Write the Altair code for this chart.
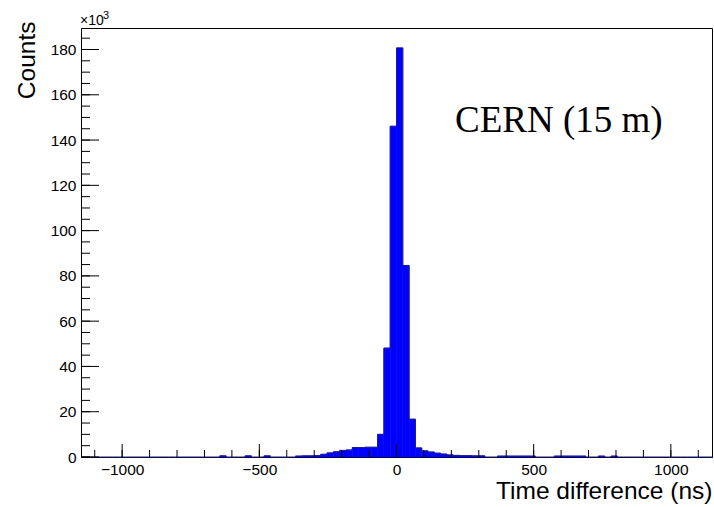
import altair as alt
import pandas as pd

# Histogram: 100 bins from -1150 to 1150 ns, counts in thousands
x_min, x_max, n_bins = -1150.0, 1150.0, 100
counts_k = (
    [0.0] * 22 + [0.5] + [0.0] * 3 + [0.5] + [0.0] * 2 + [0.5] + [0.0] * 4
    + [0.4, 0.5, 0.5, 0.6]
    + [1.2, 1.8, 2.3, 2.9, 3.1]
    + [4.2, 4.2, 4.3, 4.3]
    + [10.0, 48.1, 146.1, 180.7, 84.6, 16.7, 4.0]
    + [2.7, 2.2, 1.7, 1.3, 0.9, 0.7, 0.6, 0.6, 0.5, 0.5]
    + [0.0, 0.0]
    + [0.4] * 6
    + [0.0] * 3
    + [0.4] * 5
    + [0.0, 0.0, 0.4, 0.0, 0.4]
    + [0.0] * 15
)
x_major = [-1000, -500, 0, 500, 1000]
x_minor = list(range(-1100, 1101, 100))
y_major = [0, 20, 40, 60, 80, 100, 120, 140, 160, 180]
y_minor = list(range(0, 190, 5))
y_top = 189.5

bw = (x_max - x_min) / n_bins
left = [x_min + bw * i for i in range(n_bins)]
right = [l + bw for l in left]
hist = pd.DataFrame({"left": left, "right": right, "count": counts_k, "zero": [0.0] * n_bins})
outline = pd.DataFrame({"left": left + [x_max], "count": counts_k + [counts_k[-1]]})

W, H = 631, 429
FONT = "Liberation Sans"
XT = "Time difference (ns)"
YT = "Counts"

xs = alt.Scale(domain=[x_min, x_max], nice=False, zero=False)
ys = alt.Scale(domain=[0, y_top], nice=False, zero=True)

bars = alt.Chart(hist).transform_filter("datum.count > 0").mark_rect(
    color="#0000ff", stroke="#0000ff", strokeWidth=0.6).encode(
    x=alt.X("left:Q", scale=xs, title=XT,
            axis=alt.Axis(values=x_major, format="d", titleX=W, titleY=41)),
    x2="right:Q",
    y=alt.Y("count:Q", scale=ys, title=YT,
            axis=alt.Axis(values=y_major, format="d", titleAngle=270, titleX=-47, titleY=-7)),
    y2="zero:Q",
)

line = alt.Chart(outline).mark_line(interpolate="step-after", color="#1c1c8c",
                                     strokeWidth=1).encode(
    x=alt.X("left:Q", scale=xs, title=XT),
    y=alt.Y("count:Q", scale=ys, title=YT),
)

ytick_major = alt.Chart(pd.DataFrame({"v": y_major})).mark_rule(color="black", strokeWidth=1).encode(
    y=alt.Y("v:Q", scale=ys, title=YT), x=alt.value(0), x2=alt.value(18))
ytick_minor = alt.Chart(pd.DataFrame({"v": y_minor})).mark_rule(color="black", strokeWidth=1).encode(
    y=alt.Y("v:Q", scale=ys, title=YT), x=alt.value(0), x2=alt.value(9))
xtick_major = alt.Chart(pd.DataFrame({"v": x_major})).mark_rule(color="black", strokeWidth=1).encode(
    x=alt.X("v:Q", scale=xs, title=XT), y=alt.value(H), y2=alt.value(H - 13))
xtick_minor = alt.Chart(pd.DataFrame({"v": x_minor})).mark_rule(color="black", strokeWidth=1).encode(
    x=alt.X("v:Q", scale=xs, title=XT), y=alt.value(H), y2=alt.value(H - 7))

exp_text = alt.Chart(pd.DataFrame({"t": ["×10"]})).mark_text(
    font=FONT, fontSize=14, align="left", baseline="alphabetic", color="black").encode(
    text="t:N", x=alt.value(-1), y=alt.value(-3))
exp_sup = alt.Chart(pd.DataFrame({"t": ["3"]})).mark_text(
    font=FONT, fontSize=11, align="left", baseline="alphabetic", color="black").encode(
    text="t:N", x=alt.value(22), y=alt.value(-9))

label = alt.Chart(pd.DataFrame({"t": ["CERN (15 m)"]})).mark_text(
    font="Liberation Serif", fontSize=37, align="left", baseline="alphabetic", color="black").encode(
    text="t:N", x=alt.value(374), y=alt.value(104))

chart = alt.layer(bars, line, ytick_minor, ytick_major, xtick_minor, xtick_major,
                  exp_text, exp_sup, label).properties(
    width=W, height=H,
    autosize=alt.AutoSizeParams(type="none"),
    padding={"left": 81, "top": 28, "right": 2, "bottom": 50},
    background="white",
).configure_view(
    stroke="black", strokeWidth=1
).configure_axis(
    ticks=False, grid=False, domain=True, domainColor="black", domainWidth=1,
    labelFont=FONT, labelFontSize=15.5, labelColor="black", labelPadding=5,
    labelFlush=False,
    titleFont=FONT, titleFontSize=24.5, titleFontWeight="normal", titleColor="black",
    titleAnchor="end", titleAlign="right", titleBaseline="alphabetic",
)

chart.save("out.html", embed_options={"renderer": "svg", "actions": False})
